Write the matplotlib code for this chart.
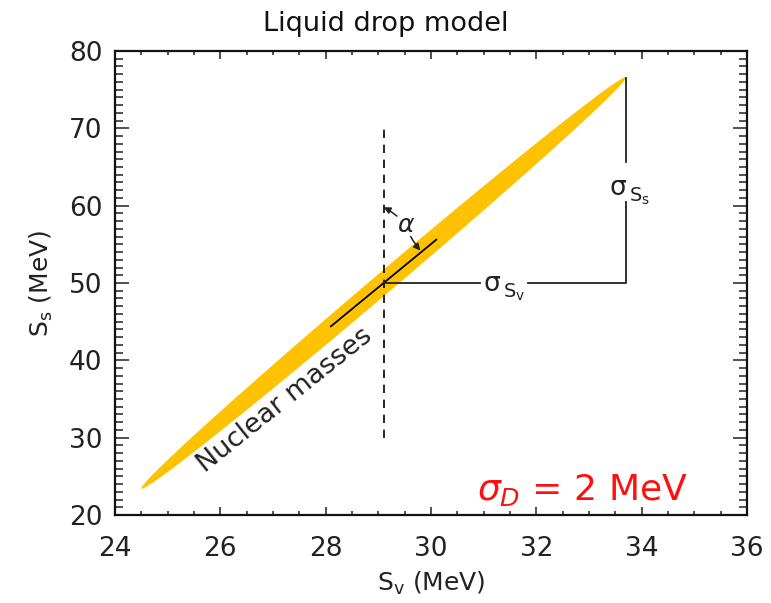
import matplotlib
matplotlib.use("Agg")
import matplotlib.pyplot as plt
import numpy as np
from matplotlib.ticker import MultipleLocator

plt.rcParams["font.family"] = ["DejaVu Sans"]
plt.rcParams["mathtext.fontset"] = "dejavusans"

# best-fit point and 1-sigma errors of the liquid drop fit
CENTER = (29.1, 50.0)
SIGMA_SV = 4.6
SIGMA_SS = 26.6
RHO = 0.9979

# reference cut through the best fit and the principal-axis segment
DASH_X = 29.1
DASH_Y = [30.0, 70.0]
AXIS_HALF = [1.0, 5.6]

# label anchors
SV_LABEL = (31.42, 49.75)
SV_GAP = [30.93, 31.85]
SS_LABEL = (33.82, 62.1)
SS_GAP = [60.5, 65.6]
ALPHA_LABEL = (29.52, 57.5)
ALPHA_ENDS = [(29.1, 59.8), (29.8, 54.2)]
MASS_LABEL = (27.23, 34.9)
SIGMA_D_POS = (34.88, 21.95)

XLIM = [24, 36]
YLIM = [20, 80]

INK = "#222222"


def sigma_label(ax, xy, sub):
    # big sigma with a fairly large S_x subscript next to it
    ax.annotate("σ", xy=xy, xytext=(-4, 1), textcoords="offset points",
                ha="right", va="center", fontsize=19, color=INK)
    ax.annotate(r"S$_\mathrm{%s}$" % sub, xy=xy, xytext=(-2, -5),
                textcoords="offset points", ha="left", va="center",
                fontsize=14, color=INK)


fig = plt.figure(figsize=(7.71, 6.03), dpi=100)
ax = fig.add_axes([115 / 771, 1 - 515 / 603, 632 / 771, 464 / 603])

# 1-sigma error ellipse from the covariance matrix
cov = np.array([[SIGMA_SV**2, RHO * SIGMA_SV * SIGMA_SS],
                [RHO * SIGMA_SV * SIGMA_SS, SIGMA_SS**2]])
vals, vecs = np.linalg.eigh(cov)
t = np.linspace(0, 2 * np.pi, 600)
circle = np.vstack([np.cos(t), np.sin(t)])
ell = vecs @ (np.sqrt(vals)[:, None] * circle)
ax.fill(CENTER[0] + ell[0], CENTER[1] + ell[1], color="#FFC200", lw=0, zorder=1)

cx, cy = CENTER
ax.plot([DASH_X, DASH_X], DASH_Y, color="black", lw=1.2, ls=(0, (5, 4)), zorder=2)
ax.plot([cx - AXIS_HALF[0], cx + AXIS_HALF[0]], [cy - AXIS_HALF[1], cy + AXIS_HALF[1]],
        color="black", lw=1.3, zorder=3)

# sigma_Sv / sigma_Ss bracket
corner_x = cx + SIGMA_SV
corner_y = cy + RHO * SIGMA_SS
line_kw = dict(color=INK, lw=1.3, zorder=3)
ax.plot([cx, SV_GAP[0]], [cy, cy], **line_kw)
ax.plot([SV_GAP[1], corner_x, corner_x], [cy, cy, SS_GAP[0]], **line_kw)
ax.plot([corner_x, corner_x], [SS_GAP[1], corner_y], **line_kw)
sigma_label(ax, SV_LABEL, "v")
sigma_label(ax, SS_LABEL, "s")

# angle between the principal axis and the S_s direction
ax.text(*ALPHA_LABEL, r"$\alpha$", ha="center", va="center", fontsize=18, color=INK)
for end in ALPHA_ENDS:
    ax.annotate("", xy=end, xytext=ALPHA_LABEL,
                arrowprops=dict(arrowstyle="-|>", color=INK, lw=1.1,
                                mutation_scale=10, shrinkA=9, shrinkB=0,
                                connectionstyle="arc3,rad=0.1"))

ax.text(*MASS_LABEL, "Nuclear masses", rotation=38.6, ha="center", va="center",
        fontsize=19.5, color=INK, rotation_mode="anchor")

ax.text(*SIGMA_D_POS, r"$\sigma_D$ = 2 MeV", color="#FF1010", ha="right",
        va="baseline", fontsize=26)

ax.set_xlim(XLIM)
ax.set_ylim(YLIM)
ax.xaxis.set_major_locator(MultipleLocator(2))
ax.xaxis.set_minor_locator(MultipleLocator(0.5))
ax.yaxis.set_major_locator(MultipleLocator(10))
ax.yaxis.set_minor_locator(MultipleLocator(1))
ax.tick_params(which="both", direction="in", top=True, right=True, width=1.1,
               labelsize=19, colors=INK)
ax.tick_params(axis="x", which="major", length=6, pad=15)
ax.tick_params(axis="x", which="minor", length=3)
ax.tick_params(axis="y", which="major", length=10, pad=9)
ax.tick_params(axis="y", which="minor", length=6)
for sp in ax.spines.values():
    sp.set_linewidth(1.6)
    sp.set_color("#111111")

ax.set_xlabel(r"S$_\mathrm{v}$ (MeV)", fontsize=18, labelpad=6, color=INK)
ax.set_ylabel(r"S$_\mathrm{s}$ (MeV)", fontsize=18, labelpad=10, color=INK)
fig.text(0.5, 1 - 24 / 603, "Liquid drop model", ha="center", va="center",
         fontsize=19.5, color="#111111")

fig.savefig("out.png", dpi=100)
